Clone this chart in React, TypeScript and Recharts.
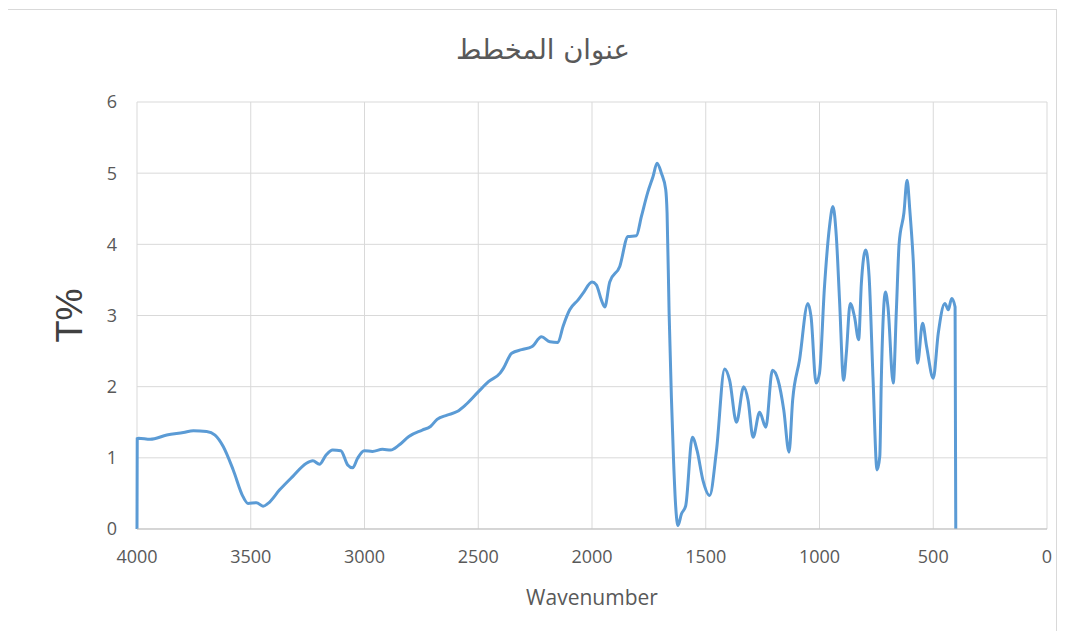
import React from "react";
import {
  LineChart,
  Line,
  XAxis,
  YAxis,
  CartesianGrid,
  Label,
} from "recharts";

const wavenumbers = [
  4000, 3999, 3993, 3942, 3869, 3796, 3752, 3694, 3657, 3621, 3577, 3534,
  3512, 3475, 3446, 3424, 3373, 3315, 3257, 3227, 3198, 3169, 3140, 3104,
  3074, 3052, 3031, 3001, 2965, 2921, 2885, 2848, 2805, 2746, 2710, 2681,
  2637, 2593, 2557, 2499, 2455, 2404, 2389, 2353, 2309, 2265, 2222, 2185,
  2150, 2127, 2098, 2061, 2040, 2000, 1981, 1959, 1944, 1922, 1878, 1842,
  1805, 1783, 1754, 1732, 1714, 1695, 1676, 1670, 1661, 1651, 1641, 1632,
  1622, 1607, 1588, 1559, 1538, 1512, 1483, 1453, 1417, 1395, 1365, 1333,
  1314, 1292, 1263, 1236, 1207, 1182, 1157, 1134, 1118, 1088, 1051, 1037,
  1015, 1000, 978, 956, 941, 926, 912, 894, 882, 865, 846, 828, 816, 797,
  782, 765, 747, 735, 728, 710, 699, 676, 662, 650, 629, 615, 603, 588,
  569, 547, 529, 500, 478, 449, 434, 419, 404, 401,
];

// transmittance T%
const transmittance = [
  0, 1.27, 1.275, 1.26, 1.32, 1.355, 1.38, 1.37, 1.32, 1.16, 0.83, 0.455,
  0.36, 0.37, 0.32, 0.36, 0.55, 0.74, 0.92, 0.96, 0.91, 1.04, 1.11, 1.1,
  0.9, 0.86, 0.99, 1.1, 1.09, 1.12, 1.11, 1.18, 1.3, 1.39, 1.44, 1.54,
  1.6, 1.65, 1.74, 1.93, 2.07, 2.19, 2.26, 2.47, 2.52, 2.56, 2.7, 2.63,
  2.62, 2.85, 3.08, 3.22, 3.31, 3.47, 3.43, 3.22, 3.12, 3.47, 3.69, 4.11,
  4.12, 4.39, 4.74, 4.95, 5.14, 5.0, 4.77, 4.44, 3.03, 1.85, 0.92, 0.31,
  0.05, 0.21, 0.33, 1.29, 1.1, 0.68, 0.47, 1.1, 2.25, 2.09, 1.5, 2.0,
  1.81, 1.29, 1.64, 1.43, 2.23, 2.09, 1.67, 1.08, 1.81, 2.37, 3.17, 2.98,
  2.05, 2.19, 3.41, 4.25, 4.53, 4.11, 3.22, 2.09, 2.47, 3.17, 2.98, 2.66,
  3.45, 3.92, 3.55, 2.14, 0.83, 1.02, 2.14, 3.33, 3.12, 2.05, 3.08, 4.01,
  4.44, 4.9, 4.48, 3.78, 2.33, 2.89, 2.56, 2.12, 2.75, 3.17, 3.08, 3.24,
  3.12, 0,
];

const xTicks = [4000, 3500, 3000, 2500, 2000, 1500, 1000, 500, 0];
const yTicks = [0, 1, 2, 3, 4, 5, 6];

const data = wavenumbers.map((w, i) => ({ w, t: transmittance[i] }));

const tickStyle = { fill: "#595959", fontSize: 18, fontFamily: "Open Sans" };

export default function App() {
  return (
    <div
      style={{
        position: "relative",
        left: -1,
        top: 1,
        width: 1048,
        height: 621,
        border: "1px solid #d9d9d9",
        background: "#fff",
      }}
    >
      {/* chart title */}
      <div
        style={{
          position: "absolute",
          left: 535,
          top: 21,
          transform: "translateX(-50%)",
          fontFamily: "DejaVu Sans",
          fontSize: 27.5,
          lineHeight: "36px",
          color: "#595959",
          whiteSpace: "nowrap",
        }}
      >
        عنوان المخطط
      </div>
      <LineChart
        width={1048}
        height={621}
        data={data}
        margin={{ top: 92, right: 9, left: 0, bottom: 26 }}
      >
        <CartesianGrid stroke="#d9d9d9" strokeWidth={1} />
        <XAxis
          type="number"
          dataKey="w"
          domain={[0, 4000]}
          ticks={xTicks}
          reversed
          height={76}
          tickLine={false}
          tickSize={0}
          tickMargin={21}
          axisLine={{ stroke: "#bfbfbf" }}
          tick={tickStyle}
        >
          <Label
            value="Wavenumber"
            position="insideBottom"
            offset={0}
            style={{ fill: "#595959", fontSize: 21, fontFamily: "Open Sans" }}
          />
        </XAxis>
        <YAxis
          type="number"
          domain={[0, 6]}
          ticks={yTicks}
          width={129}
          tickLine={false}
          tickSize={0}
          tickMargin={20}
          axisLine={false}
          tick={tickStyle}
        >
          <Label
            value="T%"
            angle={-90}
            position="insideLeft"
            offset={61}
            style={{
              textAnchor: "middle",
              fill: "#404040",
              fontSize: 36,
              fontFamily: "Liberation Sans",
            }}
          />
        </YAxis>
        <Line
          type="monotone"
          dataKey="t"
          stroke="#5b9bd5"
          strokeWidth={3}
          dot={false}
          isAnimationActive={false}
        />
      </LineChart>
    </div>
  );
}
